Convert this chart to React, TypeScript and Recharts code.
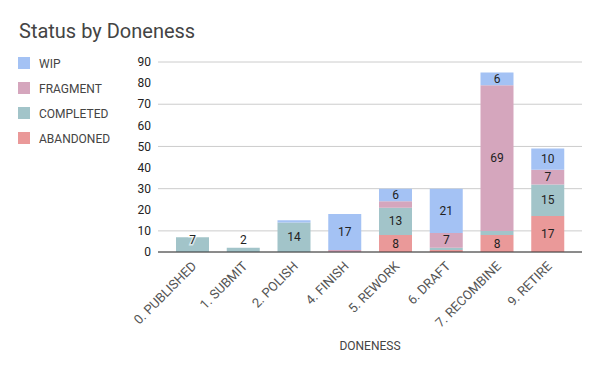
import { BarChart, Bar, XAxis, YAxis, CartesianGrid, LabelList, Label } from 'recharts';

const categories = [
  '0. PUBLISHED',
  '1. SUBMIT',
  '2. POLISH',
  '4. FINISH',
  '5. REWORK',
  '6. DRAFT',
  '7. RECOMBINE',
  '9. RETIRE',
];
const abandoned = [0, 0, 0, 0, 8, 1, 8, 17];
const completed = [7, 2, 14, 0, 13, 1, 2, 15];
const fragment = [0, 0, 0, 1, 3, 7, 69, 7];
const wip = [0, 0, 1, 17, 6, 21, 6, 10];
const yTicks = [0, 10, 20, 30, 40, 50, 60, 70, 80, 90];

// bottom to top
const series = [
  { key: 'abandoned', name: 'ABANDONED', color: '#ea9999', values: abandoned },
  { key: 'completed', name: 'COMPLETED', color: '#a2c4c9', values: completed },
  { key: 'fragment', name: 'FRAGMENT', color: '#d5a6bd', values: fragment },
  { key: 'wip', name: 'WIP', color: '#a4c2f4', values: wip },
];

const segmentCount = (i: number) => series.filter((s) => s.values[i] > 0).length;

// small segments get no label; a segment alone in its stack always gets one
const data = categories.map((name, i) => {
  const row: Record<string, string | number> = { name };
  const solo = segmentCount(i) === 1;
  series.forEach((s) => {
    const v = s.values[i];
    row[s.key] = v;
    row[s.key + 'Label'] = !solo && v >= 6 ? v : '';
    row[s.key + 'Solo'] = solo && v > 0 ? v : '';
  });
  return row;
});

function SegmentLabel(props: any) {
  const { x, y, width, height, value } = props;
  if (value === '' || value == null) return null;
  return (
    <text
      x={x + width / 2}
      y={y + height / 2}
      textAnchor="middle"
      dominantBaseline="central"
      fontSize={12}
      fill="#222"
    >
      {value}
    </text>
  );
}

function SoloLabel(props: any) {
  const { x, y, width, height, value } = props;
  if (value === '' || value == null) return null;
  const small = height < 18;
  // keep a short bar's label box above the axis
  const cy = small ? y + height - 12 : y + height / 2;
  return (
    <text
      x={x + width / 2}
      y={cy}
      textAnchor="middle"
      dominantBaseline="central"
      fontSize={12}
      fill="#222"
      stroke={small ? 'rgba(255,255,255,0.6)' : 'none'}
      strokeWidth={small ? 3 : 0}
      paintOrder="stroke"
    >
      {value}
    </text>
  );
}

function XTick({ x, y, payload }: any) {
  return (
    <g transform={`translate(${x + 5},${y + 15})`}>
      <text textAnchor="end" transform="rotate(-45)" fontSize={13} fill="#555">
        {payload.value}
      </text>
    </g>
  );
}

export default function App() {
  return (
    <div
      style={{
        position: 'absolute',
        left: 0,
        top: 0,
        width: 600,
        height: 371,
        background: '#fff',
        fontFamily: 'Roboto, sans-serif',
      }}
    >
      <BarChart
        width={600}
        height={371}
        data={data}
        margin={{ top: 62, right: 18, left: 0, bottom: 0 }}
        barSize={33}
      >
        <CartesianGrid vertical={false} stroke="#cccccc" />
        <XAxis
          dataKey="name"
          height={119}
          interval={0}
          tick={<XTick />}
          tickLine={false}
          tickSize={0}
          tickMargin={0}
          axisLine={{ stroke: '#333' }}
          padding={{ left: 9, right: 9 }}
        >
          <Label value="DONENESS" position="insideBottom" offset={21} fontSize={12} fill="#444" />
        </XAxis>
        <YAxis
          width={158}
          domain={[0, 90]}
          ticks={yTicks}
          tickLine={false}
          axisLine={false}
          tickSize={0}
          tickMargin={7}
          tick={{ fontSize: 12, fill: '#222' }}
        />
        {series.map((s) => (
          <Bar key={s.key} dataKey={s.key} name={s.name} stackId="a" fill={s.color} isAnimationActive={false}>
            <LabelList dataKey={s.key + 'Label'} content={<SegmentLabel />} />
            <LabelList dataKey={s.key + 'Solo'} content={<SoloLabel />} />
          </Bar>
        ))}
      </BarChart>
      <svg
        width={600}
        height={371}
        style={{ position: 'absolute', left: 0, top: 0, pointerEvents: 'none' }}
      >
        <text x={19} y={38} fontSize={20} fill="#444">
          Status by Doneness
        </text>
        {[...series].reverse().map((s, i) => (
          <g key={s.key}>
            <rect x={18} y={57 + i * 25} width={12} height={12} fill={s.color} />
            <text x={39} y={67.5 + i * 25} fontSize={12} fill="#444">
              {s.name}
            </text>
          </g>
        ))}
      </svg>
    </div>
  );
}
